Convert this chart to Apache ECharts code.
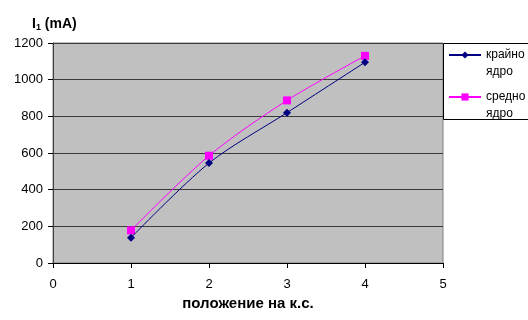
<!DOCTYPE html>
<html>
<head>
<meta charset="utf-8">
<script src="https://cdn.jsdelivr.net/npm/echarts@6/dist/echarts.min.js"></script>
<style>
  html, body { margin: 0; padding: 0; background: #fff; }
  #chart { width: 528px; height: 320px; }
</style>
</head>
<body>
<div id="chart"></div>
<script>
// Position on the short-circuit (к.с.) and measured current I1, mA
const positions = [1, 2, 3, 4];
const outerCore = [138, 545, 820, 1095];   // крайно ядро
const middleCore = [178, 585, 887, 1130];  // средно ядро
const seriesNames = ['крайно ядро', 'средно ядро'];
const xRange = [0, 5];
const yRange = [0, 1200];

const FONT = '"Liberation Sans", Arial, sans-serif';

const chart = echarts.init(document.getElementById('chart'), null, { renderer: 'canvas' });

function pairs(ys) {
  return positions.map((x, i) => [x, ys[i]]);
}

chart.setOption({
  animation: false,
  backgroundColor: '#ffffff',
  title: {
    text: 'I{sub|1} (mA)',
    left: 27,
    top: 12,
    textStyle: {
      fontFamily: FONT, fontSize: 14, fontWeight: 'bold', color: '#000',
      rich: {
        sub: { fontFamily: FONT, fontSize: 9, fontWeight: 'bold', color: '#000', padding: [6, 0, 0, 0] }
      }
    }
  },
  graphic: [{
    type: 'rect',
    z: 0,
    shape: { x: 443.5, y: 43.5, width: 120, height: 76 },
    style: { fill: '#ffffff', stroke: '#000000', lineWidth: 1 }
  }],
  legend: {
    orient: 'vertical',
    left: 448,
    top: 29.5,
    z: 10,
    padding: 0,
    itemGap: -9,
    itemWidth: 32,
    itemHeight: 9,
    data: seriesNames,
    // leading blank line keeps the first word level with the legend symbol
    formatter: name => '\n' + name.replace(' ', '\n'),
    textStyle: {
      fontFamily: FONT, fontSize: 12, color: '#000',
      lineHeight: 17
    }
  },
  grid: {
    left: 53, right: 85, top: 43, bottom: 57,
    show: true,
    backgroundColor: '#c0c0c0',
    borderColor: '#808080',
    borderWidth: 1
  },
  xAxis: {
    type: 'value',
    min: xRange[0], max: xRange[1], interval: 1,
    name: 'положение на к.с.',
    nameLocation: 'middle',
    nameGap: 32,
    nameTextStyle: { fontFamily: FONT, fontSize: 15, fontWeight: 'bold', color: '#000' },
    axisLine: { lineStyle: { color: '#000', width: 1 } },
    axisTick: { show: true, length: 5, lineStyle: { color: '#000' } },
    axisLabel: { margin: 15, fontFamily: FONT, fontSize: 13, color: '#000' },
    splitLine: { show: false }
  },
  yAxis: {
    type: 'value',
    min: yRange[0], max: yRange[1], interval: 200,
    axisLine: { show: true, lineStyle: { color: '#404040', width: 1 } },
    axisTick: { show: true, length: 5, lineStyle: { color: '#000' } },
    axisLabel: {
      margin: 10, fontFamily: FONT, fontSize: 13, color: '#000',
      formatter: v => String(v)
    },
    splitLine: { show: true, lineStyle: { color: '#3a3a3a', width: 1 } }
  },
  series: [
    {
      name: seriesNames[0],
      type: 'line',
      z: 3,
      data: pairs(outerCore),
      smooth: 0.3,
      symbol: 'diamond',
      symbolSize: 8,
      itemStyle: { color: '#000080' },
      lineStyle: { color: '#000080', width: 1 }
    },
    {
      name: seriesNames[1],
      type: 'line',
      z: 2,
      data: pairs(middleCore),
      smooth: 0.3,
      symbol: 'rect',
      symbolSize: 8,
      itemStyle: { color: '#ff00ff' },
      lineStyle: { color: '#ff00ff', width: 1 }
    }
  ]
});
</script>
</body>
</html>
